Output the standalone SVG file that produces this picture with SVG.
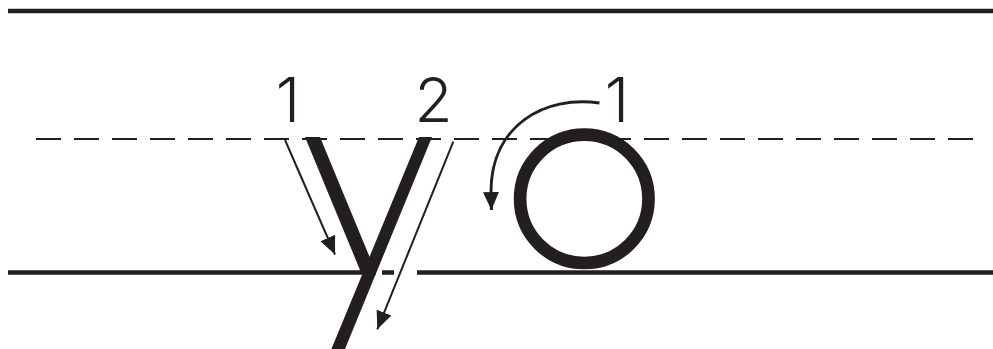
<svg xmlns="http://www.w3.org/2000/svg" width="993" height="349" viewBox="0 0 993 349">
  <style>
    .rule { stroke: #231f20; fill: none; }
    .solid { stroke-width: 4.5; }
    .dash { stroke-width: 2; stroke-dasharray: 25 13; }
    .ink { fill: #231f20; }
    .arrow { stroke: #231f20; fill: none; stroke-width: 2; }
    .num { font-family: "Inter", "Liberation Sans", sans-serif; font-weight: 300; font-size: 62px; fill: #231f20; text-anchor: middle; }
  </style>
  <defs>
    <marker id="ah" markerUnits="userSpaceOnUse" markerWidth="20" markerHeight="18" refX="18" refY="9" orient="auto">
      <path d="M0,1 L18,9 L0,17 Z" fill="#231f20"/>
    </marker>
  </defs>
  <rect width="993" height="349" fill="#ffffff"/>

  <g id="guides">
    <line class="rule solid" x1="8" y1="11" x2="993" y2="11"/>
    <line class="rule dash" x1="36" y1="139" x2="973" y2="139"/>
    <line class="rule solid" x1="8" y1="272.5" x2="376" y2="272.5"/>
    <line class="rule solid" x1="382" y1="272.5" x2="394" y2="272.5"/>
    <line class="rule solid" x1="417" y1="272.5" x2="993" y2="272.5"/>
  </g>

  <g id="letter-y">
    <polygon class="ink" points="305,137 320,137 376,272.4 361,272.4"/>
    <polygon class="ink" points="419,137 432,137 345,349 331.4,349"/>
  </g>

  <g id="letter-o">
    <circle cx="584.3" cy="198.8" r="64.2" fill="none" stroke="#231f20" stroke-width="12.7"/>
  </g>

  <g id="labels">
    <text class="num" x="288" y="121.5">1</text>
    <text class="num" x="433.5" y="121.5">2</text>
    <text class="num" x="617" y="121.5">1</text>
  </g>

  <g id="connectors">
    <line class="arrow" x1="285" y1="140" x2="335" y2="254.5" marker-end="url(#ah)"/>
    <line class="arrow" x1="453.3" y1="141.7" x2="377.3" y2="329.3" marker-end="url(#ah)"/>
    <path class="arrow" style="stroke-width:3" d="M599.5,103 C545,95 491,125 491,192 L491.4,210" marker-end="url(#ah)"/>
  </g>
</svg>
